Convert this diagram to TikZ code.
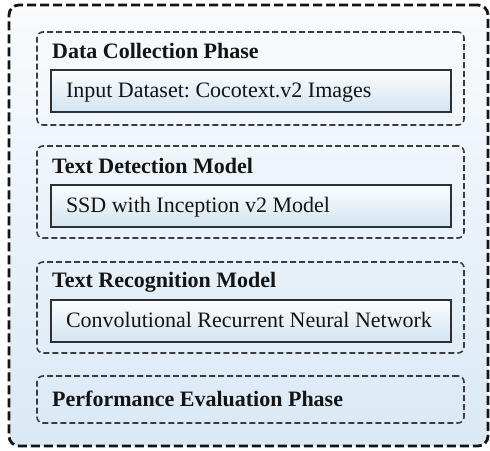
\documentclass[tikz,border=0pt]{standalone}
\usepackage{fontspec}
\setmainfont{Liberation Serif}
\usetikzlibrary{positioning}

\definecolor{bgtop}{HTML}{F9FBFD}
\definecolor{bgbottom}{HTML}{DAE9F5}
\definecolor{stagetop}{HTML}{FBFDFE}
\definecolor{stagebottom}{HTML}{D3E4F2}
\definecolor{dashgray}{HTML}{3A3D40}
\definecolor{edgegray}{HTML}{2E3133}
\definecolor{inkblack}{HTML}{141414}

\tikzset{
	outerframe/.style={draw=inkblack, line width=2.8pt, dash pattern=on 9pt off 4pt,
		rounded corners=10pt, top color=bgtop, bottom color=bgbottom,
		minimum width=479pt, minimum height=441pt, inner sep=0pt},
	phasebox/.style={draw=dashgray, line width=1.6pt, dash pattern=on 6pt off 3pt,
		rounded corners=6pt, minimum width=427pt, inner sep=0pt},
	stagebox/.style={draw=edgegray, line width=1.6pt, top color=stagetop, bottom color=stagebottom,
		minimum width=400pt, minimum height=42pt, text width=370pt, inner xsep=15pt, inner ysep=0pt,
		align=flush left, text height=16pt, text depth=4pt, text=inkblack,
		font=\fontsize{22}{26}\selectfont\frenchspacing},
	phasetitle/.style={anchor=base west, inner sep=0pt, text=inkblack,
		font=\fontsize{22}{26}\selectfont\bfseries},
}

\begin{document}
\begin{tikzpicture}[x=1pt, y=-1pt]
	\useasboundingbox (0,0) rectangle (490,450);
	
	% frame round all phases
	\node[outerframe] (frame) at (248.5,225.5) {};
	
	% phase boxes
	\node[phasebox, minimum height=93pt] (collect) at (250.5,78.5) {};
	\node[phasebox, minimum height=92pt] (detect) at (250.5,192) {};
	\node[phasebox, minimum height=91pt] (recog) at (250.5,307.5) {};
	\node[phasebox, minimum height=47pt] (evalphase) at (250.5,399.5) {};
	
	% titles
	\node[phasetitle] (collecttitle) at (52,58) {Data Collection Phase};
	\node[phasetitle] (detecttitle) at (52,173) {Text Detection Model};
	\node[phasetitle] (recogtitle) at (52,287) {Text Recognition Model};
	\node[phasetitle] (evaltitle) at (52,406) {Performance Evaluation Phase};
	
	% stages
	\node[stagebox] (dataset) at (251,91) {Input Dataset: Cocotext.v2 Images};
	\node[stagebox] (ssd) at (251,206) {SSD with Inception v2 Model};
	\node[stagebox] (crnn) at (251,321) {Convolutional Recurrent Neural Network};
	
\end{tikzpicture}
\end{document}
